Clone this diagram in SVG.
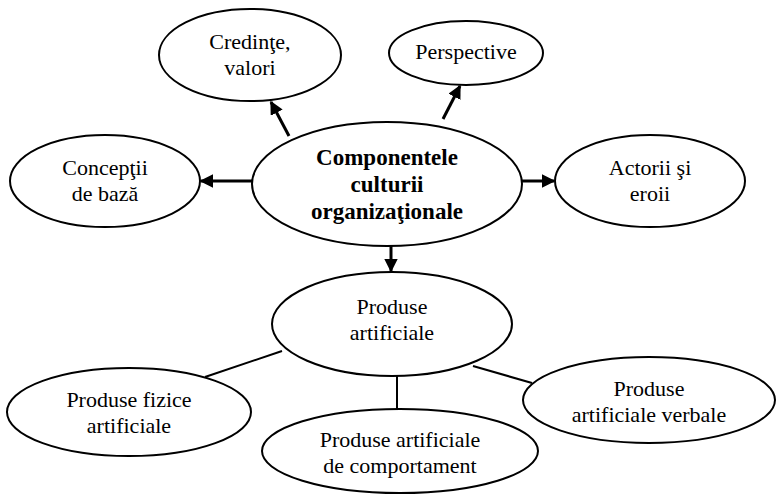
<svg xmlns="http://www.w3.org/2000/svg" width="777" height="496" viewBox="0 0 777 496">
<defs>
<style>
.n ellipse{fill:#fff;stroke:#000;stroke-width:2}
.n text{font-family:"Liberation Serif","Times New Roman",serif;font-size:22px;fill:#000;text-anchor:middle}
.n text.b{font-weight:bold;font-size:23px}
.c line{stroke:#000;stroke-width:2}
.c line.a{stroke-width:3}
</style>
<marker id="ah" viewBox="0 0 10 10" refX="9" refY="5" markerWidth="4.5" markerHeight="4.5" markerUnits="strokeWidth" orient="auto">
<path d="M0,0 L10,5 L0,10 Z" fill="#000"/>
</marker>
</defs>
<rect width="777" height="496" fill="#fff"/>
<g class="c" id="connectors">
<line class="a" x1="289" y1="136" x2="271" y2="102" marker-end="url(#ah)"/>
<line class="a" x1="443" y1="119" x2="460" y2="86" marker-end="url(#ah)"/>
<line class="a" x1="252" y1="181" x2="201" y2="181" marker-end="url(#ah)"/>
<line class="a" x1="522" y1="181" x2="554" y2="181" marker-end="url(#ah)"/>
<line class="a" x1="391" y1="246" x2="391" y2="271" marker-end="url(#ah)"/>
<line x1="282" y1="351" x2="205" y2="377"/>
<line x1="397" y1="376" x2="397" y2="409"/>
<line x1="473" y1="366" x2="532" y2="383"/>
</g>
<g class="n" id="credinte">
<ellipse cx="250" cy="55" rx="91" ry="46"/>
<text x="250" y="49">Credinţe,</text>
<text x="250" y="75">valori</text>
</g>
<g class="n" id="perspective">
<ellipse cx="466" cy="53" rx="77" ry="32"/>
<text x="466" y="59">Perspective</text>
</g>
<g class="n" id="conceptii">
<ellipse cx="105" cy="181" rx="95" ry="46"/>
<text x="105" y="175">Concepţii</text>
<text x="105" y="201">de bază</text>
</g>
<g class="n" id="central">
<ellipse cx="387" cy="184" rx="135" ry="62"/>
<text class="b" x="387" y="165">Componentele</text>
<text class="b" x="387" y="192">culturii</text>
<text class="b" x="387" y="219">organizaţionale</text>
</g>
<g class="n" id="actorii">
<ellipse cx="650" cy="181" rx="95" ry="46"/>
<text x="650" y="175">Actorii şi</text>
<text x="650" y="201">eroii</text>
</g>
<g class="n" id="produse">
<ellipse cx="392" cy="324" rx="120" ry="52"/>
<text x="392" y="314">Produse</text>
<text x="392" y="340">artificiale</text>
</g>
<g class="n" id="fizice">
<ellipse cx="129" cy="412" rx="122" ry="44"/>
<text x="129" y="407">Produse fizice</text>
<text x="129" y="433">artificiale</text>
</g>
<g class="n" id="comportament">
<ellipse cx="400" cy="451" rx="138" ry="42"/>
<text x="400" y="447">Produse artificiale</text>
<text x="400" y="473">de comportament</text>
</g>
<g class="n" id="verbale">
<ellipse cx="649" cy="400" rx="126" ry="43"/>
<text x="649" y="396">Produse</text>
<text x="649" y="422">artificiale verbale</text>
</g>
</svg>
